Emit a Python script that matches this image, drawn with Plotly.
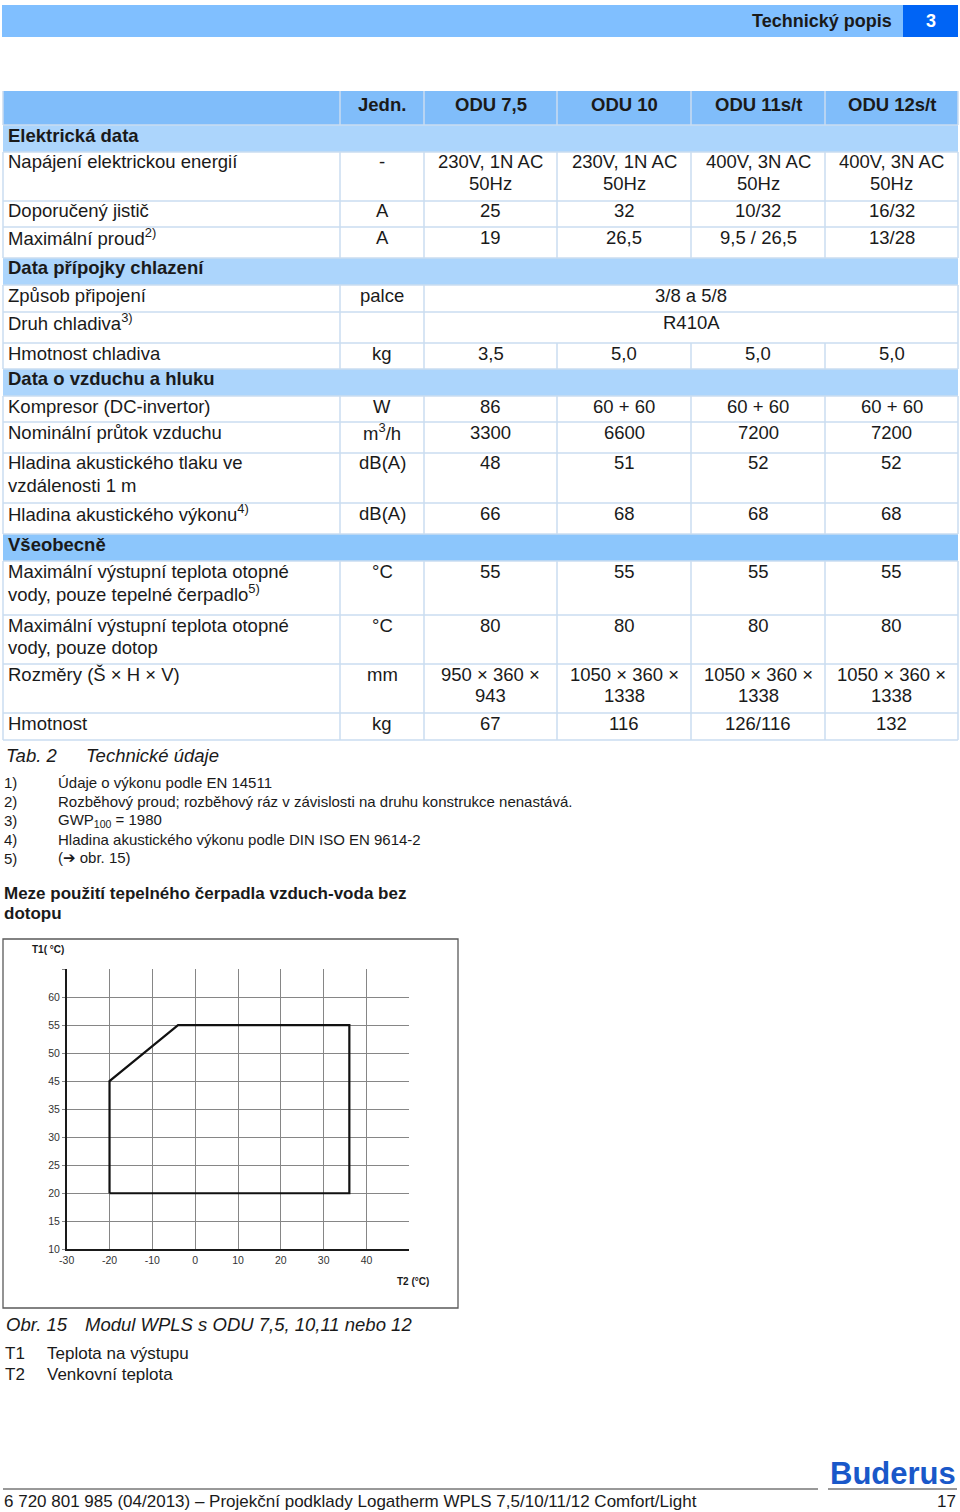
import plotly.graph_objects as go

W, H = 960, 1512
FONT = "Liberation Sans, Arial, sans-serif"
INK = "#1a1a1a"

    # Table data (Tab. 2)
col_heads = ["Jedn.", "ODU 7,5", "ODU 10", "ODU 11s/t", "ODU 12s/t"]
row_labels = ["Elektrická data",
              "Napájení elektrickou energií",
              "Doporučený jistič",
              "Maximální proud<sup>2)</sup>",
              "Data přípojky chlazení",
              "Způsob připojení",
              "Druh chladiva<sup>3)</sup>",
              "Hmotnost chladiva",
              "Data o vzduchu a hluku",
              "Kompresor (DC-invertor)",
              "Nominální průtok vzduchu",
              "Hladina akustického tlaku ve<br>vzdálenosti 1 m",
              "Hladina akustického výkonu<sup>4)</sup>",
              "Všeobecně",
              "Maximální výstupní teplota otopné<br>vody, pouze tepelné čerpadlo<sup>5)</sup>",
              "Maximální výstupní teplota otopné<br>vody, pouze dotop",
              "Rozměry (Š × H × V)",
              "Hmotnost"]
row_units = [None, "-", "A", "A", None, "palce", "", "kg", None, "W", "m<sup>3</sup>/h",
             "dB(A)", "dB(A)", None, "°C", "°C", "mm", "kg"]
odu_7_5 = [None, "230V, 1N AC<br>50Hz", "25", "19", None, "3/8 a 5/8", "R410A", "3,5", None,
           "86", "3300", "48", "66", None, "55", "80", "950 × 360 ×<br>943", "67"]
odu_10 = [None, "230V, 1N AC<br>50Hz", "32", "26,5", None, "3/8 a 5/8", "R410A", "5,0", None,
          "60 + 60", "6600", "51", "68", None, "55", "80", "1050 × 360 ×<br>1338", "116"]
odu_11 = [None, "400V, 3N AC<br>50Hz", "10/32", "9,5 / 26,5", None, "3/8 a 5/8", "R410A", "5,0", None,
          "60 + 60", "7200", "52", "68", None, "55", "80", "1050 × 360 ×<br>1338", "126/116"]
odu_12 = [None, "400V, 3N AC<br>50Hz", "16/32", "13/28", None, "3/8 a 5/8", "R410A", "5,0", None,
          "60 + 60", "7200", "52", "68", None, "55", "80", "1050 × 360 ×<br>1338", "132"]
section_rows = [0, 4, 8, 13]
spanning_rows = [5, 6]

note_nums = ["1)", "2)", "3)", "4)", "5)"]
note_texts = ["Údaje o výkonu podle EN 14511",
              "Rozběhový proud; rozběhový ráz v závislosti na druhu konstrukce nenastává.",
              "GWP<sub>100</sub> = 1980",
              "Hladina akustického výkonu podle DIN ISO EN 9614-2",
              "(<span style='font-family:DejaVu Sans'>➔</span> obr. 15)"]

    # Chart data (Obr. 15)
t1_labels = [10, 15, 20, 25, 30, 35, 45, 50, 55, 60]
t2_ticks = [-30, -20, -10, 0, 10, 20, 30, 40]
limit_t2 = [-20, -20, -4, 36, 36, -20]
limit_t1 = [20, 45, 55, 55, 20, 20]

legend_keys = ["T1", "T2"]
legend_texts = ["Teplota na výstupu", "Venkovní teplota"]

    # Page layout (pixels)
col_edges = [3, 340, 424, 557, 691, 825, 958]
row_edges = [91, 125, 152, 201, 227, 258, 285, 312, 343, 369, 396, 422, 453,
             503, 534, 561, 615, 664, 713, 740]
LINE_COL = "#cadcf0"
HEAD_FILL = "#80bdfa"
SECT_FILL = "#acd5fc"
SECT_FILL_DARK = "#8cc6fc"


def px(x):
    return x / W


def py(y):
    return 1 - y / H


fig = go.Figure()


def text(x, y, s, size=18.5, bold=False, italic=False, xanchor="left", color=INK):
    if not s:
        return
    if bold:
        s = "<b>" + s + "</b>"
    if italic:
        s = "<i>" + s + "</i>"
    fig.add_annotation(x=px(x), y=py(y), xref="paper", yref="paper", text=s,
                       showarrow=False, xanchor=xanchor, yanchor="middle",
                       borderpad=0, font=dict(family=FONT, size=size, color=color))


def rect(x0, y0, x1, y1, fill=None, line=None, width=1):
    fig.add_shape(type="rect", xref="paper", yref="paper",
                  x0=px(x0), x1=px(x1), y0=py(y0), y1=py(y1),
                  fillcolor=fill if fill else "rgba(0,0,0,0)",
                  line=dict(color=line if line else "rgba(0,0,0,0)", width=width))


def seg(x0, y0, x1, y1, color=LINE_COL, width=1.5):
    fig.add_shape(type="line", xref="paper", yref="paper",
                  x0=px(x0), x1=px(x1), y0=py(y0), y1=py(y1),
                  line=dict(color=color, width=width))


def cell_text(cx, top, s, xanchor="center", bold=False):
    for k, part in enumerate(s.split("<br>")):
        text(cx, top + 10 + k * 22, part, xanchor=xanchor, bold=bold)


    # Top band
rect(2, 5, 903, 37, fill="#80bfff")
rect(903, 5, 958, 37, fill="#0064f5")
text(893, 21, "Technický popis", size=18, bold=True, xanchor="right")
text(931, 21, "3", size=18, bold=True, xanchor="center", color="white")

    # Table fills
rect(col_edges[0], row_edges[0], col_edges[-1], row_edges[1], fill=HEAD_FILL)
for i in section_rows:
    fill = SECT_FILL_DARK if i == 13 else SECT_FILL
    rect(col_edges[0], row_edges[i + 1], col_edges[-1], row_edges[i + 2], fill=fill)

    # Table lines
for y in row_edges[1:]:
    seg(col_edges[0], y, col_edges[-1], y)
for i in range(-1, len(row_labels)):
    top, bot = row_edges[i + 1], row_edges[i + 2]
    if i in section_rows:
        continue
    xs = col_edges if i not in spanning_rows else col_edges[:3] + col_edges[-1:]
    for x in xs:
        seg(x, top, x, bot)

    # Table texts
for j, head in enumerate(col_heads):
    cx = (col_edges[j + 1] + col_edges[j + 2]) / 2
    text(cx, row_edges[0] + 13.5, head, bold=True, xanchor="center")

value_cols = [odu_7_5, odu_10, odu_11, odu_12]
for i, label in enumerate(row_labels):
    top = row_edges[i + 1]
    if i in section_rows:
        text(7, top + 10, label, bold=True)
        continue
    cell_text(7, top, label, xanchor="left")
    cell_text((col_edges[1] + col_edges[2]) / 2, top, row_units[i])
    if i in spanning_rows:
        cell_text((col_edges[2] + col_edges[-1]) / 2, top, odu_7_5[i])
        continue
    for j, vals in enumerate(value_cols):
        cell_text((col_edges[j + 2] + col_edges[j + 3]) / 2, top, vals[i])

    # Caption and footnotes
text(5, 755, "Tab. 2", italic=True)
text(85, 755, "Technické údaje", italic=True)
for k, (num, note) in enumerate(zip(note_nums, note_texts)):
    text(3, 782 + k * 19, num, size=15)
    text(57, 782 + k * 19, note, size=15)

text(3, 893, "Meze použití tepelného čerpadla vzduch-voda bez", size=17, bold=True)
text(3, 913, "dotopu", size=17, bold=True)

    # Chart
fig.add_trace(go.Scatter(
    x=limit_t2,
    y=[t1_labels.index(v) for v in limit_t1],
    mode="lines",
    line=dict(color="#111111", width=2.2),
    hoverinfo="skip",
    showlegend=False))

rect(3, 939, 458, 1308, line="#5a5a5a", width=1.3)
text(31, 950, "T1( °C)", size=10, bold=True)
text(396, 1281, "T2 (°C)", size=10, bold=True)

fig.update_xaxes(
    domain=[px(66.7), px(409.3)],
    range=[-30, 50],
    tickvals=t2_ticks + [50],
    ticktext=[str(v) for v in t2_ticks] + [" "],
    showgrid=True, gridcolor="#868686", gridwidth=1,
    showline=True, linecolor="#1a1a1a", linewidth=1.5,
    zeroline=False, ticks="", automargin=False,
    tickfont=dict(family=FONT, size=10.5, color="#333333"),
    fixedrange=True)
fig.update_yaxes(
    domain=[py(1249.3), py(969)],
    range=[0, len(t1_labels)],
    tickvals=list(range(len(t1_labels) + 1)),
    ticktext=[str(v) for v in t1_labels] + [" "],
    showgrid=True, gridcolor="#868686", gridwidth=1,
    showline=True, linecolor="#1a1a1a", linewidth=1.5,
    zeroline=False, ticks="outside", ticklen=3, tickcolor="#868686",
    automargin=False,
    tickfont=dict(family=FONT, size=10.5, color="#333333"),
    fixedrange=True)

text(5, 1324, "Obr. 15", italic=True)
text(84, 1324, "Modul WPLS s ODU 7,5, 10,11 nebo 12", italic=True)
for k, (key, desc) in enumerate(zip(legend_keys, legend_texts)):
    text(4, 1353 + k * 21, key, size=17)
    text(46, 1353 + k * 21, desc, size=17)

    # Footer
text(957, 1473, "Buderus", size=31, bold=True, xanchor="right", color="#1958c9")
seg(3, 1489, 818, 1489, color="#333333", width=1)
seg(828, 1489, 957, 1489, color="#333333", width=1)
text(3, 1501, "6 720 801 985 (04/2013) – Projekční podklady Logatherm WPLS 7,5/10/11/12 Comfort/Light", size=17)
text(957, 1501, "17", size=17, xanchor="right")

fig.update_layout(
    width=W, height=H,
    autosize=False,
    margin=dict(l=0, r=0, t=0, b=0, pad=0, autoexpand=False),
    paper_bgcolor="white",
    plot_bgcolor="white",
    showlegend=False,
    font=dict(family=FONT, color=INK))

fig.write_html("out.html", config={"displayModeBar": False},
               post_script="document.body.style.margin='0';"
                           "document.documentElement.style.margin='0';")
